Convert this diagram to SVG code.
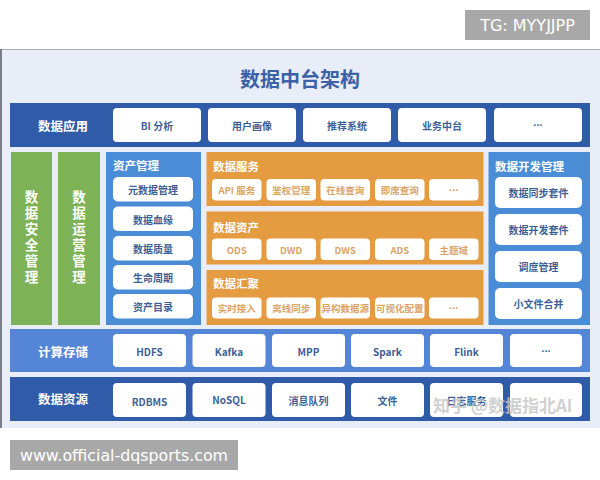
<svg xmlns="http://www.w3.org/2000/svg" width="600" height="480" viewBox="0 0 600 480">
<style>
text{font-family:"Noto Sans CJK SC","Liberation Sans",sans-serif;font-weight:700}
.bd{fill:#2f5ba8}
.bm{fill:#5585d6}
.gr{fill:#7db356}
.bp{fill:#4b8cd7}
.or{fill:#e59b40}
.wb{fill:#ffffff}
.lbl{fill:#ffffff;font-size:12.5px;text-anchor:middle;dominant-baseline:central}
.ptl{fill:#ffffff;font-size:11.5px;dominant-baseline:central}
.vt{fill:#ffffff;font-size:13.5px;text-anchor:middle;writing-mode:vertical-rl;letter-spacing:2.5px}
.bt{fill:#3d5f96;font-size:10px;text-anchor:middle;dominant-baseline:central}
.ot{fill:#dba465;font-size:9.5px;text-anchor:middle;dominant-baseline:central}
.dots{font-family:"Liberation Sans",sans-serif;font-size:11px;letter-spacing:-0.5px}
.wm{fill:#ffffff;font-family:"DejaVu Sans",sans-serif;font-weight:400;dominant-baseline:central}
</style>
<rect x="0" y="0" width="600" height="480" fill="#ffffff"/>
<g id="tg"><rect x="465" y="10" width="125" height="30" fill="#a8a8a8"/><text class="wm" x="527.5" y="25.5" font-size="16" text-anchor="middle">TG: MYYJJPP</text></g>
<g id="frame">
<rect x="0" y="49" width="600" height="379" fill="#e9edf8"/>
<line x1="0" y1="49.5" x2="600" y2="49.5" stroke="#a9acb3" stroke-width="1"/>
<line x1="1" y1="49" x2="1" y2="428" stroke="#555a66" stroke-width="1.5"/>
<text x="300" y="78" font-size="20" fill="#3b62a6" text-anchor="middle" dominant-baseline="central">数据中台架构</text>
</g>
<g id="row-app">
<rect class="bd" x="10" y="103" width="580" height="44"/>
<text class="lbl" x="63" y="125">数据应用</text>
<rect class="wb" x="113" y="108" width="88" height="34" rx="4"/><text class="bt" x="157" y="125">BI 分析</text>
<rect class="wb" x="208" y="108" width="88" height="34" rx="4"/><text class="bt" x="252" y="125">用户画像</text>
<rect class="wb" x="303" y="108" width="88" height="34" rx="4"/><text class="bt" x="347" y="125">推荐系统</text>
<rect class="wb" x="398" y="108" width="88" height="34" rx="4"/><text class="bt" x="442" y="125">业务中台</text>
<rect class="wb" x="494" y="108" width="88" height="34" rx="4"/><text class="bt dots" x="538" y="125">···</text>
</g>
<g id="security">
<rect class="gr" x="11" y="152" width="41" height="173"/>
<text class="vt" x="31.5" y="238">数据安全管理</text>
</g>
<g id="operation">
<rect class="gr" x="58" y="152" width="42" height="173"/>
<text class="vt" x="79" y="238">数据运营管理</text>
</g>
<g id="asset-mgmt">
<rect class="bp" x="106" y="152" width="95" height="173"/>
<text class="ptl" x="113" y="165">资产管理</text>
<rect class="wb" x="113" y="177" width="80" height="24.5" rx="5"/><text class="bt" x="153" y="189.5">元数据管理</text>
<rect class="wb" x="113" y="206.5" width="80" height="24.5" rx="5"/><text class="bt" x="153" y="219">数据血缘</text>
<rect class="wb" x="113" y="236" width="80" height="24.5" rx="5"/><text class="bt" x="153" y="248">数据质量</text>
<rect class="wb" x="113" y="265" width="80" height="24.5" rx="5"/><text class="bt" x="153" y="277">生命周期</text>
<rect class="wb" x="113" y="294" width="80" height="24.5" rx="5"/><text class="bt" x="153" y="306">资产目录</text>
</g>
<g id="data-service">
<rect class="or" x="206.5" y="152" width="277" height="54"/>
<text class="ptl" x="213" y="166">数据服务</text>
<rect class="wb" x="212" y="179" width="49.5" height="21.5" rx="4"/><text class="ot" x="236.8" y="190">API 服务</text>
<rect class="wb" x="266.5" y="179" width="49.5" height="21.5" rx="4"/><text class="ot" x="291.2" y="190">鉴权管理</text>
<rect class="wb" x="320.5" y="179" width="49.5" height="21.5" rx="4"/><text class="ot" x="345.2" y="190">在线查询</text>
<rect class="wb" x="375" y="179" width="49.5" height="21.5" rx="4"/><text class="ot" x="399.8" y="190">即席查询</text>
<rect class="wb" x="429" y="179" width="49.5" height="21.5" rx="4"/><text class="ot dots" x="453.8" y="190">···</text>
</g>
<g id="data-asset">
<rect class="or" x="206.5" y="211.5" width="277" height="53"/>
<text class="ptl" x="213" y="226.5">数据资产</text>
<rect class="wb" x="212" y="238.5" width="49.5" height="21.5" rx="4"/><text class="ot" x="236.8" y="249.5">ODS</text>
<rect class="wb" x="266.5" y="238.5" width="49.5" height="21.5" rx="4"/><text class="ot" x="291.2" y="249.5">DWD</text>
<rect class="wb" x="320.5" y="238.5" width="49.5" height="21.5" rx="4"/><text class="ot" x="345.2" y="249.5">DWS</text>
<rect class="wb" x="375" y="238.5" width="49.5" height="21.5" rx="4"/><text class="ot" x="399.8" y="249.5">ADS</text>
<rect class="wb" x="429" y="238.5" width="49.5" height="21.5" rx="4"/><text class="ot" x="453.8" y="249.5">主题域</text>
</g>
<g id="data-gather">
<rect class="or" x="206.5" y="270" width="277" height="55"/>
<text class="ptl" x="213" y="283">数据汇聚</text>
<rect class="wb" x="212" y="297.5" width="49.5" height="21" rx="4"/><text class="ot" x="236.8" y="308">实时接入</text>
<rect class="wb" x="266.5" y="297.5" width="49.5" height="21" rx="4"/><text class="ot" x="291.2" y="308">离线同步</text>
<rect class="wb" x="320.5" y="297.5" width="49.5" height="21" rx="4"/><text class="ot" x="345.2" y="308">异构数据源</text>
<rect class="wb" x="375" y="297.5" width="49.5" height="21" rx="4"/><text class="ot" x="399.8" y="308">可视化配置</text>
<rect class="wb" x="429" y="297.5" width="49.5" height="21" rx="4"/><text class="ot dots" x="453.8" y="308">···</text>
</g>
<g id="dev-mgmt">
<rect class="bp" x="488.5" y="152" width="101.5" height="173"/>
<text class="ptl" x="495" y="166">数据开发管理</text>
<rect class="wb" x="495" y="177" width="87" height="31" rx="5"/><text class="bt" x="538.5" y="192.5">数据同步套件</text>
<rect class="wb" x="495" y="214" width="87" height="31" rx="5"/><text class="bt" x="538.5" y="229.5">数据开发套件</text>
<rect class="wb" x="495" y="251" width="87" height="31" rx="5"/><text class="bt" x="538.5" y="266.5">调度管理</text>
<rect class="wb" x="495" y="288" width="87" height="31" rx="5"/><text class="bt" x="538.5" y="303.5">小文件合并</text>
</g>
<g id="row-compute">
<rect class="bm" x="10" y="329" width="580" height="43"/>
<text class="lbl" x="63" y="351">计算存储</text>
<rect class="wb" x="113" y="334" width="73" height="33" rx="4"/><text class="bt" x="149.5" y="351">HDFS</text>
<rect class="wb" x="192.5" y="334" width="73" height="33" rx="4"/><text class="bt" x="229" y="351">Kafka</text>
<rect class="wb" x="272" y="334" width="73" height="33" rx="4"/><text class="bt" x="308.5" y="351">MPP</text>
<rect class="wb" x="351" y="334" width="73" height="33" rx="4"/><text class="bt" x="387.5" y="351">Spark</text>
<rect class="wb" x="430" y="334" width="73" height="33" rx="4"/><text class="bt" x="466.5" y="351">Flink</text>
<rect class="wb" x="510" y="334" width="72" height="33" rx="4"/><text class="bt dots" x="546" y="351">···</text>
</g>
<g id="row-source">
<rect class="bd" x="10" y="377" width="580" height="44"/>
<text class="lbl" x="63" y="398">数据资源</text>
<rect class="wb" x="113" y="383" width="73" height="34" rx="4"/><text class="bt" x="149.5" y="401">RDBMS</text>
<rect class="wb" x="192.5" y="383" width="73" height="34" rx="4"/><text class="bt" x="229" y="399">NoSQL</text>
<rect class="wb" x="272" y="383" width="73" height="34" rx="4"/><text class="bt" x="308.5" y="400">消息队列</text>
<rect class="wb" x="351" y="383" width="73" height="34" rx="4"/><text class="bt" x="387.5" y="400">文件</text>
<rect class="wb" x="430" y="383" width="73" height="34" rx="4"/><text class="bt" x="466.5" y="400" font-size="8.5">日志服务</text>
<rect class="wb" x="510" y="383" width="72" height="34" rx="4"/>
</g>
<g id="watermarks">
<text x="433" y="404" font-size="17" font-weight="400" fill="#c8c8c8" fill-opacity="0.85" dominant-baseline="central">知乎 @数据指北AI</text>
<rect x="10" y="440" width="228" height="30" fill="#a8a8a8"/>
<text class="wm" x="20" y="455.5" font-size="15" textLength="208" lengthAdjust="spacingAndGlyphs">www.official-dqsports.com</text>
</g>
</svg>
